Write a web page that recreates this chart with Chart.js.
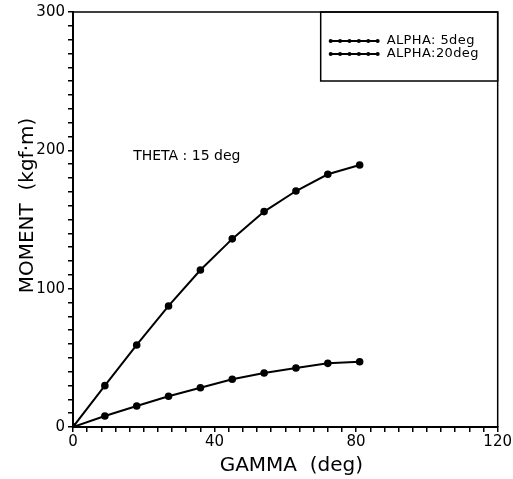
<!DOCTYPE html>
<html>
<head>
<meta charset="utf-8">
<script src="https://cdn.jsdelivr.net/npm/chart.js@4/dist/chart.umd.min.js"></script>
<style>
  body { margin: 0; background: #fff; }
  canvas { display: block; }
</style>
</head>
<body>
<canvas id="momentChart" width="513" height="479"></canvas>
<script>
// values
const gamma = [0, 9, 18, 27, 36, 45, 54, 63, 72, 81];
const alpha5 = [0, 7.9, 15.2, 22.2, 28.4, 34.5, 39, 42.7, 46, 47.2];
const alpha20 = [0, 29.9, 59.3, 87.5, 113.5, 136, 155.7, 170.6, 182.7, 189.4];
const seriesLabels = ["ALPHA: 5deg", "ALPHA:20deg"];
const xTickLabels = [0, 40, 80, 120];
const yTickLabels = [0, 100, 200, 300];

const FONT = "'DejaVu Sans', sans-serif";

function toPoints(ys) {
  return gamma.map((g, i) => ({ x: g, y: ys[i] }));
}

// frame, legend box, note and axis titles
const decor = {
  id: "decor",
  afterDraw(chart) {
    const { ctx, chartArea: a, scales } = chart;
    ctx.save();
    ctx.strokeStyle = "#000";
    ctx.lineWidth = 1.5;
    ctx.beginPath();
    ctx.moveTo(a.left, a.top);
    ctx.lineTo(a.right, a.top);
    ctx.lineTo(a.right, a.bottom);
    ctx.stroke();

    // legend box in the top right corner
    const bx = a.right - 177, by = a.top, bw = 177, bh = 69;
    ctx.lineWidth = 1.5;
    ctx.strokeRect(bx, by, bw, bh);
    ctx.fillStyle = "#000";
    ctx.font = "13px " + FONT;
    ctx.letterSpacing = "0.4px";
    ctx.textBaseline = "middle";
    chart.data.datasets.forEach((ds, i) => {
      const ly = by + 29 + i * 13;
      ctx.lineWidth = 2;
      ctx.beginPath();
      ctx.moveTo(bx + 10, ly);
      ctx.lineTo(bx + 57, ly);
      ctx.stroke();
      for (let k = 0; k < 6; k++) {
        ctx.beginPath();
        ctx.arc(bx + 10 + k * 9.4, ly, 2, 0, Math.PI * 2);
        ctx.fill();
      }
      ctx.textAlign = "left";
      ctx.fillText(ds.label, bx + 66, ly);
    });

    // note
    ctx.font = "14px " + FONT;
    ctx.letterSpacing = "0px";
    ctx.textAlign = "left";
    ctx.fillText("THETA : 15 deg", scales.x.getPixelForValue(17), scales.y.getPixelForValue(196));

    // axis titles
    ctx.font = "20px " + FONT;
    ctx.textAlign = "center";
    ctx.fillText("GAMMA  (deg)", (a.left + a.right) / 2 + 6, 466);
    ctx.translate(28, (a.top + a.bottom) / 2 - 14);
    ctx.rotate(-Math.PI / 2);
    ctx.fillText("MOMENT  (kgf\u00b7m)", 0, 0);
    ctx.restore();
  }
};

const lineStyle = {
  borderColor: "#000",
  backgroundColor: "#000",
  borderWidth: 2,
  pointRadius: 2.8,
  pointBackgroundColor: "#000",
  tension: 0,
  fill: false
};

new Chart(document.getElementById("momentChart"), {
  type: "line",
  data: {
    datasets: [
      { label: seriesLabels[0], data: toPoints(alpha5), ...lineStyle },
      { label: seriesLabels[1], data: toPoints(alpha20), ...lineStyle }
    ]
  },
  options: {
    responsive: false,
    animation: false,
    layout: { padding: { top: 12, right: 15, left: 0, bottom: 0 } },
    plugins: { legend: { display: false }, tooltip: { enabled: false } },
    scales: {
      x: {
        type: "linear",
        min: 0,
        max: 120,
        afterFit: s => { s.height = 52; },
        ticks: {
          stepSize: 4,
          autoSkip: false,
          maxRotation: 0,
          padding: 1,
          color: "#000",
          font: { family: FONT, size: 15 },
          callback: v => xTickLabels.includes(v) ? String(v) : ""
        },
        grid: { drawOnChartArea: false, tickLength: 5, color: "#000", lineWidth: 1.5 },
        border: { color: "#000", width: 2 }
      },
      y: {
        min: 0,
        max: 300,
        afterFit: s => { s.width = 73; },
        ticks: {
          stepSize: 10,
          autoSkip: false,
          padding: 3,
          color: "#000",
          font: { family: FONT, size: 15 },
          callback: v => yTickLabels.includes(v) ? String(v) : ""
        },
        grid: { drawOnChartArea: false, tickLength: 5, color: "#000", lineWidth: 1.5 },
        border: { color: "#000", width: 2 }
      }
    }
  },
  plugins: [decor]
});
</script>
</body>
</html>
